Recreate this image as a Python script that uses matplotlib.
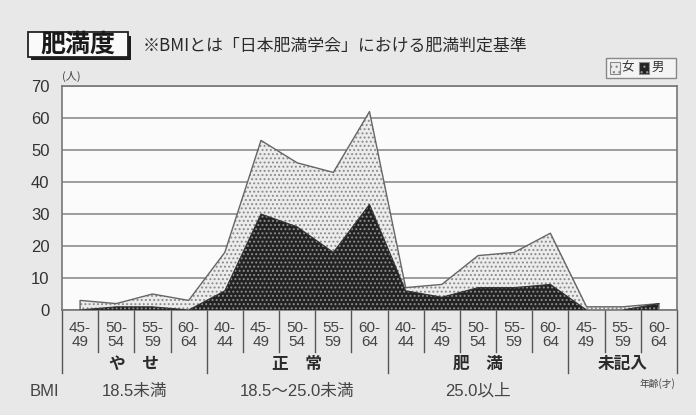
import matplotlib
matplotlib.use("Agg")
import matplotlib.pyplot as plt
from matplotlib.patches import Rectangle
from matplotlib import transforms

plt.rcParams['font.family'] = ['Noto Sans CJK JP', 'DejaVu Sans']
plt.rcParams['hatch.linewidth'] = 0.9

NUM_FONT = ['Liberation Sans Narrow', 'Liberation Sans', 'Noto Sans CJK JP']

# ages per column, grouped by BMI class
age_labels = ['45-\n49', '50-\n54', '55-\n59', '60-\n64',
              '40-\n44', '45-\n49', '50-\n54', '55-\n59', '60-\n64',
              '40-\n44', '45-\n49', '50-\n54', '55-\n59', '60-\n64',
              '45-\n49', '55-\n59', '60-\n64']
groups = ['や　せ', '正　常', '肥　満', '未記入']
group_sizes = [4, 5, 5, 3]
bmi_labels = ['18.5未満', '18.5～25.0未満', '25.0以上', '']

male = [0, 1, 1, 0, 6, 30, 26, 18, 33, 6, 4, 7, 7, 8, 0, 0, 2]
female = [3, 1, 4, 3, 12, 23, 20, 25, 29, 1, 4, 10, 11, 16, 1, 1, 0]

total = [m + f for m, f in zip(male, female)]
x = [i + 0.5 for i in range(len(male))]

W, H = 696, 415
fig = plt.figure(figsize=(W / 100, H / 100), dpi=100, facecolor='#e8e8e8')

def fy(px):
    return 1 - px / H

def fx(px):
    return px / W

ax = fig.add_axes([fx(62), fy(310), fx(677) - fx(62), fy(86) - fy(310)])
ax.set_facecolor('#fbfbfb')
ax.set_xlim(0, len(male))
ax.set_ylim(0, 70)

# areas
ax.fill_between(x, male, total, facecolor='#ececec', edgecolor='#8a8a8a',
                hatch='....', linewidth=0, zorder=3)
ax.fill_between(x, 0, male, facecolor='#222222', edgecolor='#8f8f8f',
                hatch='....', linewidth=0, zorder=4)
ax.plot([x[0]] + x + [x[-1]], [0] + total + [0], color='#666666', lw=1.0, zorder=5)
ax.plot(x, male, color='#333333', lw=0.8, zorder=5)

ax.set_yticks(range(0, 71, 10))
ax.set_yticklabels([str(v) for v in range(0, 71, 10)], family=NUM_FONT,
                   fontsize=12, color='#333333')
ax.tick_params(axis='y', length=0, pad=9)
ax.set_xticks([])
ax.grid(axis='y', color='#8c8c8c', lw=1.2, zorder=1)
for s in ax.spines.values():
    s.set_color('#777777')
    s.set_linewidth(1.2)

ax.text(0.0, 1.02, '(人)', transform=ax.transAxes, fontsize=8, color='#444444',
        ha='left', va='bottom')

# category table below the axis
tr = transforms.blended_transform_factory(ax.transData, fig.transFigure)
bounds = [0]
for g in group_sizes:
    bounds.append(bounds[-1] + g)
for i in range(len(male) + 1):
    bottom = 373 if i in bounds else 352
    ax.plot([i, i], [fy(310), fy(bottom)], transform=tr, color='#555555',
            lw=1.0, clip_on=False)
for i, lab in enumerate(age_labels):
    ax.text(i + 0.5, fy(335), lab, transform=tr, ha='center', va='center',
            family=NUM_FONT, fontsize=11, color='#444444', linespacing=1.05)
for k, g in enumerate(groups):
    c = (bounds[k] + bounds[k + 1]) / 2
    ax.text(c, fy(364), g, transform=tr, ha='center', va='center',
            fontsize=12, fontweight='bold', color='#2a2a2a')
    if bmi_labels[k]:
        ax.text(c, fy(391), bmi_labels[k], transform=tr, ha='center', va='center',
                family=NUM_FONT, fontsize=12, color='#444444')

fig.text(fx(30), fy(391), 'BMI', ha='left', va='center', family=NUM_FONT,
         fontsize=12, color='#444444')
fig.text(fx(675), fy(384), '年齢(才)', ha='right', va='center', fontsize=7,
         color='#444444')

# title box
def rect(x0, y0, x1, y1, **kw):
    fig.patches.append(Rectangle((fx(x0), fy(y1)), fx(x1) - fx(x0), fy(y0) - fy(y1),
                                 transform=fig.transFigure, **kw))

rect(31, 36, 131, 60, facecolor='#1e1e1e', edgecolor='none')
rect(28, 32, 128, 57, facecolor='#fafafa', edgecolor='#222222', lw=1.3)
fig.text(fx(78), fy(45), '肥満度', ha='center', va='center', fontsize=18,
         fontweight='bold', color='#1a1a1a')
fig.text(fx(143), fy(46), '※BMIとは「日本肥満学会」における肥満判定基準', ha='left',
         va='center', fontsize=12.2, color='#2a2a2a')

# legend
rect(606, 58, 676, 78, facecolor='#f4f4f4', edgecolor='#888888', lw=1.0)
rect(610, 62, 620, 74, facecolor='#ececec', edgecolor='#8a8a8a', hatch='...', lw=0.8)
fig.text(fx(628), fy(67.5), '女', ha='center', va='center', fontsize=9, color='#333333')
rect(639, 62, 649, 74, facecolor='#222222', edgecolor='#8f8f8f', hatch='...', lw=0.8)
fig.text(fx(658), fy(67.5), '男', ha='center', va='center', fontsize=9, color='#333333')

fig.savefig('out.png', dpi=100, facecolor=fig.get_facecolor())
